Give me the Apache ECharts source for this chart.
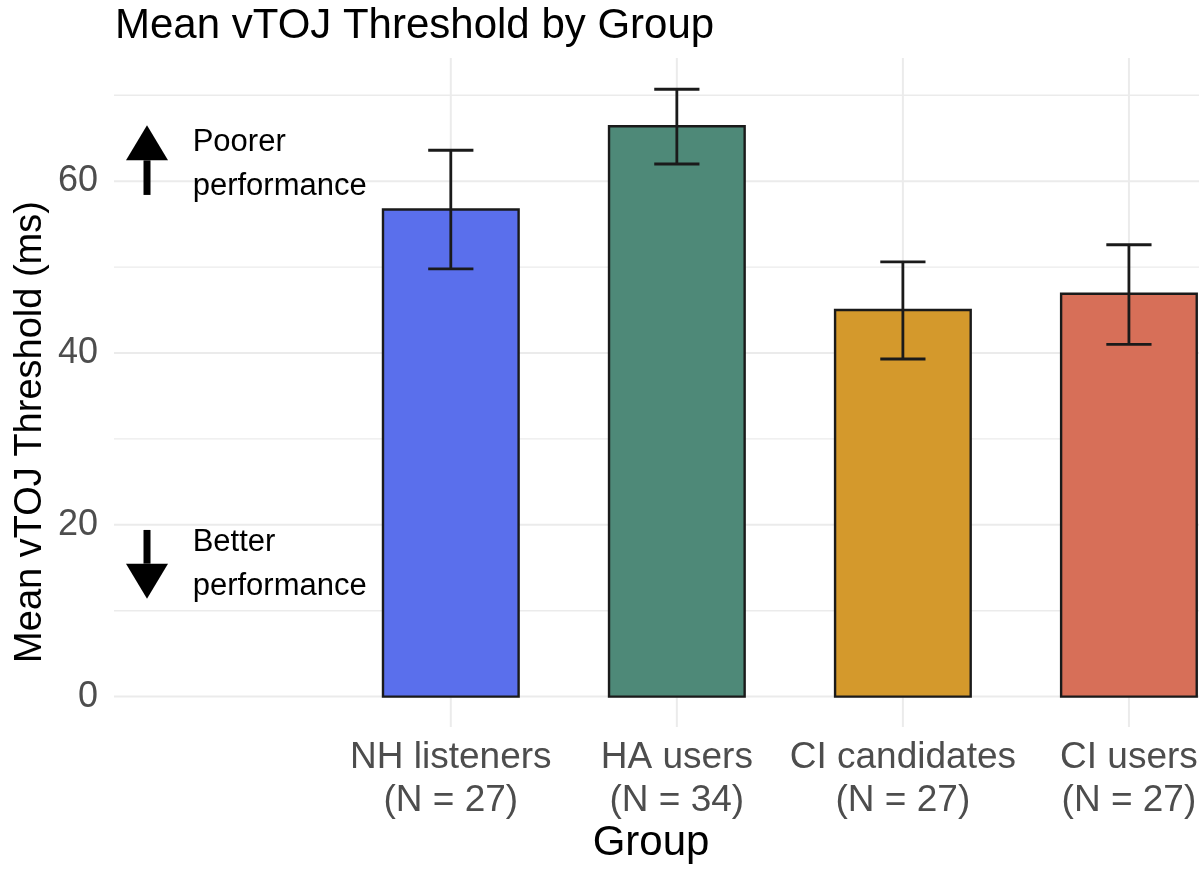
<!DOCTYPE html>
<html>
<head>
<meta charset="utf-8">
<script src="https://cdn.jsdelivr.net/npm/echarts@6/dist/echarts.min.js"></script>
<style>
html,body{margin:0;padding:0;background:#fff;}
#chart{width:1203px;height:875px;}
</style>
</head>
<body>
<div id="chart"></div>
<script>
// ---- data ----
const categories = ['NH listeners', 'HA users', 'CI candidates', 'CI users'];
const groupN = [27, 34, 27, 27];
const meanValues = [56.7, 66.4, 45.0, 46.9];
const lowerValues = [49.8, 62.0, 39.3, 41.0];
const upperValues = [63.6, 70.7, 50.6, 52.6];
const barColors = ['#5A6FEC', '#4E8978', '#D4992C', '#D76F58'];
const yMajorTicks = [0, 20, 40, 60];
const yMinorTicks = [10, 30, 50, 70];
const annotationLabels = ['Poorer\nperformance', 'Better\nperformance'];
const arrowTails = [58.4, 19.4];
const arrowTips = [66.5, 11.4];
const annotationTextY = [61.9, 15.4];

// layout constants (data units of the axes)
const X_MIN = -0.49, X_MAX = 4.31, Y_MIN = -3.54, Y_MAX = 74.34;
const ARROW_X = -0.344, TEXT_X = -0.142;
const FONT = 'Liberation Sans, Arial, Helvetica, sans-serif';

const xPos = categories.map((c, i) => i + 1);

const gridData = [];
yMajorTicks.forEach(v => gridData.push([1, v, 0]));
yMinorTicks.forEach(v => gridData.push([1, v, 1]));
xPos.forEach(v => gridData.push([v, 0, 2]));

const chart = echarts.init(document.getElementById('chart'), null, {renderer: 'canvas'});

const option = {
  animation: false,
  backgroundColor: '#ffffff',
  title: {
    text: 'Mean vTOJ Threshold by Group',
    left: 110, top: 0,
    textStyle: {fontFamily: FONT, fontSize: 42, fontWeight: 'normal', color: '#000'}
  },
  grid: {left: 114, right: 4, top: 58, bottom: 148},
  xAxis: {
    type: 'value', min: X_MIN, max: X_MAX,
    splitLine: {show: false}, axisLine: {show: false}, axisTick: {show: false},
    axisLabel: {
      customValues: xPos,
      formatter: v => categories[Math.round(v) - 1] + '\n(N = ' + groupN[Math.round(v) - 1] + ')',
      fontFamily: FONT, fontSize: 37, color: '#4D4D4D', lineHeight: 43, margin: 9
    }
  },
  yAxis: {
    type: 'value', min: Y_MIN, max: Y_MAX,
    splitLine: {show: false}, axisLine: {show: false}, axisTick: {show: false},
    axisLabel: {customValues: yMajorTicks, fontFamily: FONT, fontSize: 36, color: '#4D4D4D', margin: 16}
  },
  graphic: [
    {type: 'text', x: 31, y: 432, rotation: Math.PI / 2,
     style: {text: 'Mean vTOJ Threshold (ms)', fontFamily: FONT, fontSize: 38, fill: '#000', align: 'center', verticalAlign: 'middle'}},
    {type: 'text', x: 651, y: 843,
     style: {text: 'Group', fontFamily: FONT, fontSize: 42, fill: '#000', align: 'center', verticalAlign: 'middle'}}
  ],
  series: [
    {
      type: 'custom', z: 0, silent: true,
      data: gridData,
      renderItem: function (params, api) {
        const cs = params.coordSys;
        const kind = api.value(2);
        if (kind === 2) {
          const px = api.coord([api.value(0), 0])[0];
          return {type: 'line', shape: {x1: px, y1: cs.y, x2: px, y2: cs.y + cs.height},
                  style: {stroke: '#EBEBEB', lineWidth: 2}};
        }
        const py = api.coord([1, api.value(1)])[1];
        return {type: 'line', shape: {x1: cs.x, y1: py, x2: cs.x + cs.width, y2: py},
                style: {stroke: '#EBEBEB', lineWidth: kind === 0 ? 2 : 1.4}};
      }
    },
    {
      type: 'custom', z: 2, silent: true,
      data: meanValues.map((v, i) => [xPos[i], v]),
      renderItem: function (params, api) {
        const x = api.value(0), v = api.value(1);
        const p0 = api.coord([x - 0.3, v]);
        const p1 = api.coord([x + 0.3, 0]);
        return {type: 'rect', shape: {x: p0[0], y: p0[1], width: p1[0] - p0[0], height: p1[1] - p0[1]},
                style: {fill: barColors[params.dataIndex], stroke: '#1A1A1A', lineWidth: 2.4}};
      }
    },
    {
      type: 'custom', z: 3, silent: true,
      data: lowerValues.map((v, i) => [xPos[i], v, upperValues[i]]),
      renderItem: function (params, api) {
        const x = api.value(0), lo = api.value(1), hi = api.value(2);
        const pl = api.coord([x, lo]), ph = api.coord([x, hi]);
        const wl = api.coord([x - 0.1, lo])[0], wr = api.coord([x + 0.1, lo])[0];
        const st = {stroke: '#1A1A1A', lineWidth: 2.8};
        return {type: 'group', children: [
          {type: 'line', shape: {x1: pl[0], y1: pl[1], x2: ph[0], y2: ph[1]}, style: st},
          {type: 'line', shape: {x1: wl, y1: pl[1], x2: wr, y2: pl[1]}, style: st},
          {type: 'line', shape: {x1: wl, y1: ph[1], x2: wr, y2: ph[1]}, style: st}
        ]};
      }
    },
    {
      type: 'custom', z: 4, silent: true,
      data: arrowTails.map((t, i) => [ARROW_X, t, arrowTips[i], annotationTextY[i]]),
      renderItem: function (params, api) {
        const i = params.dataIndex;
        const tail = api.coord([api.value(0), api.value(1)]);
        const tip = api.coord([api.value(0), api.value(2)]);
        const dir = tip[1] < tail[1] ? 1 : -1; // 1 = pointing up
        const headLen = 35, headHalf = 21;
        const base = tip[1] + dir * headLen;
        const tp = api.coord([TEXT_X, api.value(3)]);
        return {type: 'group', children: [
          {type: 'line', shape: {x1: tail[0], y1: tail[1], x2: tail[0], y2: base}, style: {stroke: '#000', lineWidth: 7}},
          {type: 'polygon', shape: {points: [[tip[0], tip[1]], [tip[0] - headHalf, base], [tip[0] + headHalf, base]]}, style: {fill: '#000'}},
          {type: 'text', x: tp[0], y: tp[1],
           style: {text: annotationLabels[i], fontFamily: FONT, fontSize: 31, lineHeight: 44, fill: '#000', align: 'left', verticalAlign: 'middle'}}
        ]};
      }
    }
  ]
};
chart.setOption(option);
</script>
</body>
</html>
